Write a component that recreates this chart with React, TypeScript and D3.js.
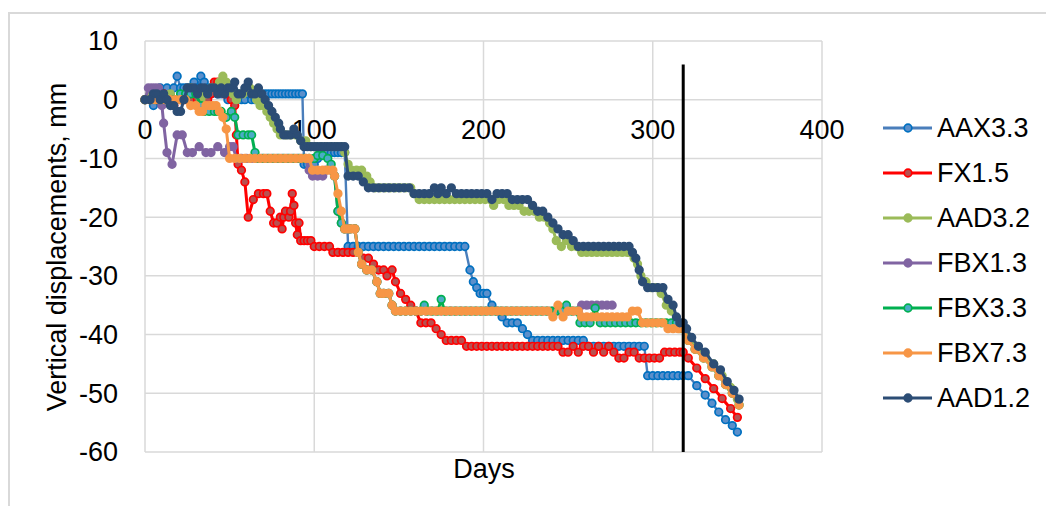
import React from 'react';
import * as d3 from 'd3';

type P = [number, number];

const seriesNames = ['AAX3.3', 'FX1.5', 'AAD3.2', 'FBX1.3', 'FBX3.3', 'FBX7.3', 'AAD1.2'];

const aax33: P[] = [
  [0,0],[3,0],[5,-1],[7,1],[9,2],[11,1],[13,2],[15,1],[17,2],[19,4],[21,2],[23,2],[25,2],[27,2],[29,3],[31,2],[33,4],[35,3],[37,2],[39,1],[41,2],[43,1],[45,1],[47,2],[49,0],[51,1],[53,1],[55,1],[57,0],[59,0],[61,1],[63,0],[65,0],[67,0],[69,0],[71,1],[73,1],[75,1],[77,1],[79,1],[81,1],[83,1],[85,1],[87,1],[89,1],[91,1],[93,1],
  [94,-11],[96,-11],[98,-11],[100,-11],[102,-10],[104,-9],[106,-9],[108,-9],[110,-9],[112,-9],[114,-9],[116,-9],[118,-9],
  [120,-25],[123,-25],[126,-25],[129,-25],[132,-25],[135,-25],[138,-25],[141,-25],[144,-25],[147,-25],[150,-25],[153,-25],[156,-25],[159,-25],[162,-25],[165,-25],[168,-25],[171,-25],[174,-25],[177,-25],[180,-25],[183,-25],[186,-25],[189,-25],
  [192,-29],[194,-31],[196,-32],[198,-33],[200,-33],[202,-33],[205,-35],[208,-36],[211,-37],[214,-38],[217,-38],[220,-38],[223,-39],[226,-40],[229,-41],[232,-41],[235,-41],[238,-41],[241,-41],[244,-41],[247,-41],[250,-41],[253,-41],[256,-41],[259,-41],[262,-42],[265,-42],[268,-42],[271,-42],[274,-42],[277,-42],[280,-42],[283,-42],[286,-42],[289,-42],[292,-42],[295,-42],
  [297,-47],[300,-47],[303,-47],[306,-47],[309,-47],[312,-47],[315,-47],[318,-47],[321,-47],[326,-48.7],[331,-50.3],[335,-51.7],[339,-53.2],[343,-54.5],[347,-55.5],[350,-56.6],
];

const fx15: P[] = [
  [0,0],[3,0],[5,1],[7,0],[9,0],[11,1],[13,0],[15,0],[17,-1],[19,0],[21,0],[23,0],[25,0],[27,0],[29,1],[31,0],[33,0],[35,1],[37,0],[39,1],[41,3],[43,3],[45,2],[47,1],[49,1],[51,0],[53,-1],[54,-6],[55,-11],[57,-12],[59,-14],[61,-20],[64,-17],[67,-16],[70,-16],[72,-16],[74,-19],[76,-21],[78,-21],[80,-20],[81,-22],[82,-20],[83,-19],[85,-20],[86,-19],[87,-16],[88,-18],[89,-21],[90,-23],[91,-21],[92,-24],[94,-24],[96,-24],[98,-24],[100,-25],[103,-25],[106,-25],[109,-25],[111,-26],[114,-26],[117,-26],[120,-26],[123,-26],[126,-26],[129,-27],[132,-27],[135,-28],[138,-29],[141,-29],[143,-30],[146,-29],[148,-31],[151,-33],[154,-34],[157,-35],[160,-36],[163,-38],[166,-38],[169,-38],[172,-39],[175,-40],[178,-41],[181,-41],[184,-41],[187,-41],[190,-42],[193,-42],[196,-42],[199,-42],[202,-42],[205,-42],[208,-42],[211,-42],[214,-42],[217,-42],[220,-42],[223,-42],[226,-42],[229,-42],[232,-42],[235,-42],[238,-42],[241,-42],[244,-42],[247,-43],[250,-43],[253,-42],[256,-43],[259,-42],[262,-42],[265,-43],[268,-42],[271,-43],[274,-42],[277,-43],[280,-44],[283,-44],[286,-43],[289,-43],[292,-44],[295,-44],[298,-44],[301,-44],[304,-44],[307,-43],[310,-43],[313,-43],[316,-43],[318,-43],[321,-44],[326,-45.7],[331,-47.5],[336,-49.2],[341,-50.9],[346,-52.6],[350,-54.1],
];

const aad32: P[] = [
  [0,0],[3,1],[6,1],[9,0],[12,0],[15,1],[18,0],[21,0],[24,1],[27,2],[30,1],[33,0],[36,1],[39,2],[42,2],[44,3],[46,4],[48,3],[50,2],[52,1],[54,0],[56,1],[58,1],[60,2],[62,2],[64,1],[66,0],[68,-1],[70,-1],[72,-2],[74,-3],[76,-4],[78,-5],[80,-6],[83,-6],[86,-6],[89,-6],[92,-7],[95,-7],[98,-8],[101,-8],[104,-8],[107,-8],[110,-8],[113,-8],[116,-8],[118,-9],[120,-11],[122,-12],[125,-12],[128,-12],[131,-13],[133,-14],[136,-15],[139,-15],[142,-15],[145,-15],[148,-15],[151,-15],[154,-15],[157,-15],[159,-16],[162,-17],[165,-17],[168,-17],[171,-17],[174,-17],[177,-17],[180,-17],[183,-17],[186,-17],[189,-17],[192,-17],[195,-17],[198,-17],[201,-17],[204,-17],[206,-18],[209,-17],[212,-17],[215,-18],[218,-18],[221,-18],[224,-19],[227,-19],[230,-19],[233,-20],[236,-20],[239,-21],[241,-22],[243,-24],[246,-25],[249,-24],[252,-25],[255,-25],[258,-26],[261,-26],[264,-26],[267,-26],[270,-26],[273,-26],[276,-26],[279,-26],[282,-26],[285,-26],[287,-26],[289,-27],[291,-28],[293,-30],[296,-31],[299,-32],[302,-32],[305,-33],[308,-35],[311,-36],[314,-38],[316,-39],[318,-39],[321,-40.5],[326,-42],[331,-43.5],[336,-45],[341,-47],[346,-49],[350,-51],
];

const fbx13: P[] = [
  [0,0],[2,2],[4,2],[6,2],[8,2],[10,-1],[11,-4],[13,-9],[16,-11],[19,-6],[22,-6],[25,-9],[28,-9],[32,-8],[36,-9],[39,-9],[43,-8],[47,-9],[50,-8],[52,-8],[54,-10],[57,-10],[60,-10],[63,-10],[66,-10],[69,-10],[72,-10],[75,-10],[78,-10],[81,-10],[84,-10],[87,-10],[90,-10],[93,-10],[95,-10],[97,-12],[99,-13],[102,-13],[105,-13],[107,-12],[110,-12],[112,-13],[114,-19],[116,-21],[118,-22],[121,-22],[124,-22],[126,-26],[128,-28],[131,-29],[134,-29],[137,-31],[139,-33],[141,-33],[144,-33],[146,-35],[148,-36],[151,-36],[154,-36],[157,-36],[160,-36],[163,-36],[166,-36],[169,-36],[172,-36],[175,-36],[178,-36],[181,-36],[184,-36],[187,-36],[190,-36],[193,-36],[196,-36],[199,-36],[202,-36],[205,-36],[208,-36],[211,-36],[214,-36],[217,-36],[220,-36],[223,-36],[226,-36],[229,-36],[232,-36],[235,-36],[238,-36],[241,-36],[244,-36],[247,-36],[250,-36],[253,-36],[256,-36],[258,-35],[261,-35],[264,-35],[267,-35],[270,-35],[273,-35],[276,-35],
];

const fbx33: P[] = [
  [0,0],[3,0],[6,0],[9,0],[12,0],[15,0],[18,0],[21,1],[24,1],[27,1],[30,1],[33,-1],[35,-2],[38,-2],[41,-2],[43,-2],[45,-2],[48,-3],[51,-2],[53,-3],[55,-6],[58,-6],[61,-6],[63,-6],[65,-9],[67,-10],[70,-10],[73,-10],[76,-10],[79,-10],[82,-10],[85,-10],[88,-10],[91,-10],[94,-10],[97,-10],[100,-10],[102,-9.5],[105,-9.5],[108,-10],[110,-11],[112,-13],[114,-19],[116,-21],[118,-22],[121,-22],[124,-22],[126,-26],[128,-28],[131,-29],[134,-29],[137,-31],[139,-33],[141,-33],[144,-33],[146,-35],[148,-36],[151,-36],[154,-36],[157,-36],[160,-36],[163,-36],[165,-35],[167,-36],[170,-36],[173,-36],[175,-34],[177,-36],[180,-36],[183,-36],[186,-36],[189,-36],[192,-36],[195,-36],[198,-36],[201,-36],[204,-36],[207,-36],[210,-36],[213,-36],[216,-36],[219,-36],[222,-36],[225,-36],[228,-36],[231,-36],[234,-36],[237,-36],[240,-36],[243,-36],[246,-36],[249,-35],[252,-36],[255,-36],[257,-38],[260,-38],[263,-38],[266,-35.5],[269,-38],[272,-38],[275,-38],[278,-38],[281,-38],[284,-38],[287,-38],[290,-38],[293,-38],[296,-38],[299,-38],[302,-38],[305,-38],[308,-38],[311,-38],[314,-38],[318,-39],[321,-41],[325,-42.5],[330,-44],[335,-45.5],[339,-47],[343,-48.5],[347,-50],[351,-52],
];

const fbx73: P[] = [
  [0,0],[3,0],[6,0],[9,0],[12,0],[15,0],[18,0],[21,0],[24,0],[27,-1],[30,-1],[32,-2],[34,-2],[36,-1],[38,-1],[40,-1],[42,-1],[44,-2],[46,-3],[48,-5],[50,-10],[53,-10],[56,-10],[59,-10],[62,-10],[65,-10],[68,-10],[71,-10],[74,-10],[77,-10],[80,-10],[83,-10],[86,-10],[89,-10],[92,-10],[95,-10],[97,-10],[99,-12],[102,-12],[105,-12],[108,-12],[111,-12],[112,-13],[114,-16],[116,-19],[118,-22],[120,-22],[122,-22],[124,-22],[126,-26],[128,-28],[131,-29],[134,-29],[137,-31],[139,-33],[141,-33],[144,-33],[146,-35],[148,-36],[151,-36],[154,-36],[157,-36],[160,-36],[163,-36],[166,-36],[169,-36],[172,-36],[175,-36],[178,-36],[181,-36],[184,-36],[187,-36],[190,-36],[193,-36],[196,-36],[199,-36],[202,-36],[205,-36],[208,-36],[211,-36],[214,-36],[217,-36],[220,-36],[223,-36],[226,-36],[229,-36],[232,-36],[235,-36],[238,-36],[241,-37],[244,-35],[247,-37],[250,-36],[253,-36],[256,-36],[258,-37],[261,-37],[264,-37],[267,-37],[270,-37],[273,-37],[276,-37],[279,-37],[282,-37],[285,-37],[288,-36],[291,-36],[294,-38],[297,-38],[300,-38],[303,-38],[306,-38],[309,-39],[312,-39],[315,-39],[318,-39],[321,-41],[325,-42.5],[330,-44],[335,-45.5],[339,-47],[343,-48.5],[347,-50],[351,-52],
];

const aad12: P[] = [
  [0,0],[3,0],[5,1],[7,1],[9,0],[11,1],[13,0],[15,-1],[17,-1],[19,-2],[21,-2],[23,0],[25,2],[27,2],[29,2],[31,1],[33,2],[35,2],[37,1],[39,2],[41,2],[43,1],[45,2],[47,1],[49,2],[51,2],[53,3],[55,1],[57,1],[59,2],[61,3],[63,1],[65,1],[67,2],[69,1],[71,0],[73,-1],[75,-2],[77,-3],[79,-4],[80,-5],[82,-6],[84,-6],[86,-6],[88,-5],[90,-6],[92,-7],[94,-8],[96,-8],[98,-8],[100,-8],[102,-8],[104,-8],[106,-8],[108,-8],[110,-8],[112,-8],[114,-8],[116,-8],[118,-8],[120,-13],[123,-13],[126,-13],[129,-14],[132,-15],[135,-15],[138,-15],[141,-15],[144,-15],[147,-15],[150,-15],[153,-15],[156,-15],[159,-16],[162,-16],[165,-16],[168,-16],[171,-15],[173,-16],[175,-15],[178,-16],[181,-15],[184,-16],[187,-16],[190,-16],[193,-16],[196,-16],[199,-16],[202,-16],[205,-17],[208,-16],[211,-16],[214,-16],[217,-17],[220,-17],[223,-17],[226,-17],[229,-18],[232,-19],[235,-19],[238,-20],[241,-21],[244,-22],[247,-23],[250,-23],[253,-24],[256,-25],[259,-25],[262,-25],[265,-25],[268,-25],[271,-25],[274,-25],[277,-25],[280,-25],[283,-25],[286,-25],[288,-26],[290,-27],[292,-29],[294,-31],[297,-32],[300,-32],[303,-32],[306,-32],[309,-34],[312,-35],[314,-37],[316,-38],[318,-38],[320,-39],[323,-40.5],[327,-42],[331,-43],[336,-45],[340,-46],[344,-48],[348,-49.5],[351,-51],
];

const seriesData: P[][] = [aax33, fx15, aad32, fbx13, fbx33, fbx73, aad12];

const xTicks = [0, 100, 200, 300, 400];
const yTicks = [10, 0, -10, -20, -30, -40, -50, -60];
const cutoffDay = 318;
const cutoffTop = 6;

const seriesStyles = [
  { line: '#4A7EBB', stroke: '#0070C0', fill: '#5B8FCB', width: 2.4 },
  { line: '#FF0000', stroke: '#FF0000', fill: '#B85050', width: 3 },
  { line: '#9BBB59', stroke: '#9BBB59', fill: '#9BBB59', width: 3 },
  { line: '#8064A2', stroke: '#8064A2', fill: '#8064A2', width: 3 },
  { line: '#00B050', stroke: '#00B050', fill: '#4BACC6', width: 3 },
  { line: '#F79646', stroke: '#F79646', fill: '#F79646', width: 3 },
  { line: '#2C4D75', stroke: '#2C4D75', fill: '#2C4D75', width: 3 },
];

const FONT = '"Liberation Sans", Arial, sans-serif';
const FS = 27;

export default function App() {
  const W = 1046;
  const H = 506;
  const x = d3.scaleLinear().domain([0, 400]).range([145, 822]);
  const y = d3.scaleLinear().domain([-60, 10]).range([452, 41]);
  const line = d3.line<P>().x(d => x(d[0])).y(d => y(d[1]));
  const grid = '#d9d9d9';

  return (
    <svg width={W} height={H} style={{ position: 'absolute', left: 0, top: 0, background: '#fff' }} fontFamily={FONT}>
      <rect x={9} y={13} width={1200} height={700} fill="#fff" stroke={grid} strokeWidth={2} />
      {yTicks.map(t => (
        <line key={'gy' + t} x1={x(0)} x2={x(400)} y1={y(t)} y2={y(t)} stroke={grid} strokeWidth={1.5} />
      ))}
      {xTicks.map(t => (
        <line key={'gx' + t} x1={x(t)} x2={x(t)} y1={y(10)} y2={y(-60)} stroke={grid} strokeWidth={1.5} />
      ))}
      {yTicks.map(t => (
        <text key={'ty' + t} x={118} y={y(t)} dy="0.35em" textAnchor="end" fontSize={FS} fill="#000">{t}</text>
      ))}
      {xTicks.map(t => (
        <text key={'tx' + t} x={x(t)} y={y(0) + 39} textAnchor="middle" fontSize={FS} fill="#000">{t}</text>
      ))}
      <text x={484} y={478} textAnchor="middle" fontSize={FS} fill="#000">Days</text>
      <text transform={`translate(66,247) rotate(-90)`} textAnchor="middle" fontSize={FS} fill="#000">
        Vertical displacements, mm
      </text>
      {seriesData.map((data, i) => {
        const s = seriesStyles[i];
        return (
          <g key={seriesNames[i]}>
            <path d={line(data) || ''} fill="none" stroke={s.line} strokeWidth={s.width} strokeLinejoin="round" />
            {data.map((d, j) => (
              <circle key={j} cx={x(d[0])} cy={y(d[1])} r={3.8} fill={s.fill} stroke={s.stroke} strokeWidth={1.7} />
            ))}
          </g>
        );
      })}
      <line x1={x(cutoffDay)} x2={x(cutoffDay)} y1={y(cutoffTop)} y2={y(-60)} stroke="#000" strokeWidth={3} />
      {seriesNames.map((n, i) => {
        const s = seriesStyles[i];
        const ly = 128 + i * 45;
        return (
          <g key={'lg' + n}>
            <line x1={883} x2={932} y1={ly} y2={ly} stroke={s.line} strokeWidth={3} />
            <circle cx={908} cy={ly} r={3.8} fill={s.fill} stroke={s.stroke} strokeWidth={1.7} />
            <text x={937} y={ly} dy="0.35em" fontSize={FS} fill="#000">{n}</text>
          </g>
        );
      })}
    </svg>
  );
}
